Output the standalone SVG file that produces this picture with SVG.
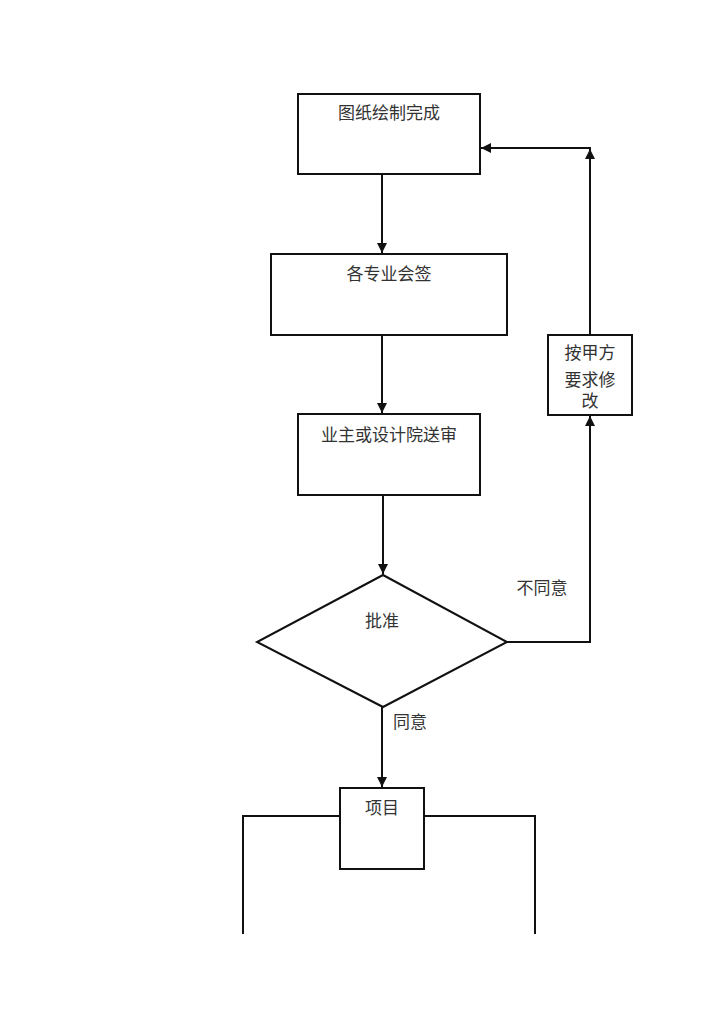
<svg xmlns="http://www.w3.org/2000/svg" width="724" height="1024" viewBox="0 0 724 1024">
<defs>
<marker id="ah" viewBox="0 0 10 10" refX="10" refY="5" markerWidth="5" markerHeight="5" orient="auto" markerUnits="strokeWidth">
<path d="M0,0 L10,5 L0,10 z" fill="#111"/>
</marker>
<style>
.box{fill:#fff;stroke:#111;stroke-width:2}
.ln{fill:none;stroke:#111;stroke-width:2}
.t{font-family:"Liberation Sans","Noto Sans CJK SC",sans-serif;font-size:17px;fill:#333;text-anchor:middle}
</style>
</defs>
<rect width="724" height="1024" fill="#fff"/>
<g id="connectors">
<line class="ln" x1="382" y1="174" x2="382" y2="253" marker-end="url(#ah)"/>
<line class="ln" x1="382" y1="335" x2="382" y2="413" marker-end="url(#ah)"/>
<line class="ln" x1="383" y1="495" x2="383" y2="574" marker-end="url(#ah)"/>
<line class="ln" x1="382" y1="707" x2="382" y2="787" marker-end="url(#ah)"/>
<polyline class="ln" points="507,642 590,642 590,416" marker-end="url(#ah)"/>
<line class="ln" x1="590" y1="335" x2="590" y2="149" marker-end="url(#ah)"/>
<line class="ln" x1="591" y1="148" x2="481" y2="148" marker-end="url(#ah)"/>
<polyline class="ln" points="340,816 243,816 243,934"/>
<polyline class="ln" points="424,816 535,816 535,934"/>
<text class="t" x="542" y="594">不同意</text>
<text class="t" x="410" y="728">同意</text>
</g>
<g id="n1">
<rect class="box" x="298" y="94" width="182" height="80"/>
<text class="t" x="389" y="119">图纸绘制完成</text>
</g>
<g id="n2">
<rect class="box" x="271" y="254" width="236" height="81"/>
<text class="t" x="389" y="280">各专业会签</text>
</g>
<g id="n3">
<rect class="box" x="298" y="414" width="182" height="81"/>
<text class="t" x="389" y="441">业主或设计院送审</text>
</g>
<g id="n4">
<polygon class="box" points="383,575 507,642 383,707 257,642"/>
<text class="t" x="382" y="627">批准</text>
</g>
<g id="n5">
<rect class="box" x="548" y="335" width="84" height="80"/>
<text class="t" x="590" y="359">按甲方</text>
<text class="t" x="590" y="386">要求修</text>
<text class="t" x="590" y="407">改</text>
</g>
<g id="n6">
<rect class="box" x="340" y="788" width="84" height="81"/>
<text class="t" x="382" y="814">项目</text>
</g>
</svg>
